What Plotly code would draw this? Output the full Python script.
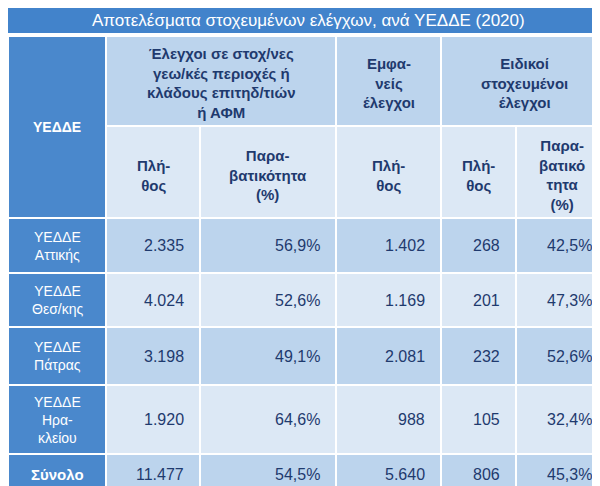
import plotly.graph_objects as go

title = "Αποτελέσματα στοχευμένων ελέγχων, ανά ΥΕΔΔΕ (2020)"
regions = ["ΥΕΔΔΕ<br>Αττικής", "ΥΕΔΔΕ<br>Θεσ/κης", "ΥΕΔΔΕ<br>Πάτρας", "ΥΕΔΔΕ<br>Ηρα-<br>κλείου", "<b>Σύνολο</b>"]
geo_count = ["2.335", "4.024", "3.198", "1.920", "11.477"]
geo_rate = ["56,9%", "52,6%", "49,1%", "64,6%", "54,5%"]
visible_count = ["1.402", "1.169", "2.081", "988", "5.640"]
special_count = ["268", "201", "232", "105", "806"]
special_rate = ["42,5%", "47,3%", "52,6%", "32,4%", "45,3%"]
group_headers = ["Έλεγχοι σε στοχ/νες<br>γεω/κές περιοχές ή<br>κλάδους επιτηδ/τιών<br>ή ΑΦΜ",
                 "Εμφα-<br>νείς<br>έλεγχοι", "Ειδικοί<br>στοχευμένοι<br>έλεγχοι"]
sub_headers = ["Πλή-<br>θος", "Παρα-<br>βατικότητα<br>(%)", "Πλή-<br>θος", "Πλή-<br>θος", "Παρα-<br>βατικό<br>τητα<br>(%)"]

cols = [0, 98, 192, 328, 433, 508, 600]
rows = [210, 265, 319, 377, 446, 486]
h1, h2 = 28, 118

NAVY = "#1f3a6e"
DARK = "#bcd4ed"
LIGHT = "#dce8f5"
SIDE = "#4a88cc"
shapes, ann = [], []

def rect(x0, y0, x1, y1, color):
    shapes.append(dict(type="rect", xref="x", yref="y", x0=x0, y0=y0, x1=x1, y1=y1,
                       fillcolor=color, line=dict(color="white", width=2), layer="below"))

def text(x, y, t, color=NAVY, size=15, anchor="center", bold=False):
    ann.append(dict(xref="x", yref="y", x=x, y=y, text=(f"<b>{t}</b>" if bold else t), showarrow=False,
                    xanchor=anchor, yanchor="middle", align="center",
                    font=dict(family="Liberation Sans, Arial", size=size, color=color)))

# title bar
shapes.append(dict(type="rect", xref="x", yref="y", x0=0, y0=0, x1=600, y1=25, fillcolor="#4283cb",
                   line=dict(width=0), layer="below"))
text(300, 12, title, color="white", size=17)

# header
rect(0, h1, cols[1], rows[0], SIDE)
text(cols[1] / 2, (h1 + rows[0]) / 2, "ΥΕΔΔΕ", color="white", size=14, bold=True)
spans = [(1, 3), (3, 4), (4, 6)]
for (a, b), g in zip(spans, group_headers):
    rect(cols[a], h1, cols[b], h2, DARK)
    text((cols[a] + cols[b]) / 2, (h1 + h2) / 2 + 2, g, size=15, bold=True)
for i, s in enumerate(sub_headers):
    rect(cols[i + 1], h2, cols[i + 2], rows[0], LIGHT)
    text((cols[i + 1] + cols[i + 2]) / 2, (h2 + rows[0]) / 2 + 3, s, size=15, bold=True)

# body
data = [geo_count, geo_rate, visible_count, special_count, special_rate]
for r in range(len(regions)):
    y0, y1 = rows[r], rows[r + 1]
    ym = (y0 + y1) / 2
    rect(0, y0, cols[1], y1, SIDE)
    text(cols[1] / 2, ym, regions[r], color="white", size=14 if r < 4 else 15)
    fill = DARK if r % 2 == 0 else LIGHT
    for c, col in enumerate(data):
        rect(cols[c + 1], y0, cols[c + 2], y1, fill)
        text(cols[c + 2] - 14, ym, col[r], size=16, anchor="right")

fig = go.Figure()
fig.update_layout(width=600, height=486, margin=dict(l=0, r=0, t=0, b=0),
                  paper_bgcolor="white", plot_bgcolor="white",
                  xaxis=dict(range=[0, 600], visible=False, fixedrange=True),
                  yaxis=dict(range=[486, 0], visible=False, fixedrange=True),
                  shapes=shapes, annotations=ann, showlegend=False)
fig.write_html("out.html")
